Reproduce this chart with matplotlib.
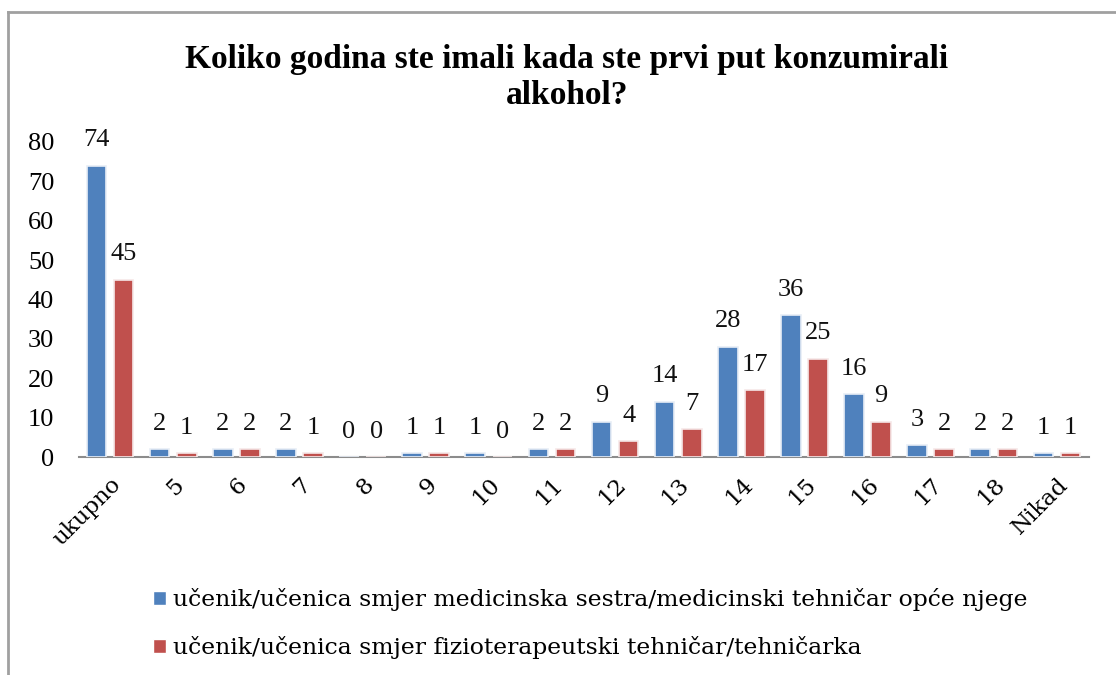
import matplotlib
matplotlib.use("Agg")
import matplotlib.pyplot as plt
import numpy as np
from matplotlib.lines import Line2D
from matplotlib.patches import Patch

categories = ["ukupno", "5", "6", "7", "8", "9", "10", "11", "12", "13", "14", "15", "16", "17", "18", "Nikad"]
med_sestra = [74, 2, 2, 2, 0, 1, 1, 2, 9, 14, 28, 36, 16, 3, 2, 1]
fizio = [45, 1, 2, 1, 0, 1, 0, 2, 4, 7, 17, 25, 9, 2, 2, 1]
series_names = [
    "učenik/učenica smjer medicinska sestra/medicinski tehničar opće njege",
    "učenik/učenica smjer fizioterapeutski tehničar/tehničarka",
]
title = "Koliko godina ste imali kada ste prvi put konzumirali\nalkohol?"
yticks = [0, 10, 20, 30, 40, 50, 60, 70, 80]

NUMFONT = ["Liberation Serif", "DejaVu Serif"]
TXTFONT = ["DejaVu Serif"]
plt.rcParams["font.family"] = NUMFONT

W, H = 1116, 675
fig = plt.figure(figsize=(W / 100, H / 100), dpi=100)

# outer frame (left and top edges)
fig.add_artist(Line2D([8 / W, 8 / W], [0, 1 - 12 / H], transform=fig.transFigure, color="#a0a0a0", lw=2))
fig.add_artist(Line2D([8 / W, 1], [1 - 12 / H, 1 - 12 / H], transform=fig.transFigure, color="#a0a0a0", lw=2))

ax_l, ax_r = 78.5, 1088.5
ax_t, ax_b = 142, 457
ax = fig.add_axes([ax_l / W, 1 - ax_b / H, (ax_r - ax_l) / W, (ax_b - ax_t) / H])

x = np.arange(len(categories))
bw = 0.31
off = 0.215
blue = "#4F81BD"
red = "#C0504D"
ax.bar(x - off, med_sestra, bw, color=blue, edgecolor="#e8eef6", linewidth=1.2, zorder=3)
ax.bar(x + off, fizio, bw, color=red, edgecolor="#f6e8e8", linewidth=1.2, zorder=3)

for xi, v in zip(x, med_sestra):
    ax.annotate(str(v), (xi - off, v), xytext=(0, 14), textcoords="offset points",
                ha="center", va="baseline", fontsize=19, color="#111111", annotation_clip=False)
for xi, v in zip(x, fizio):
    ax.annotate(str(v), (xi + off, v), xytext=(0, 14), textcoords="offset points",
                ha="center", va="baseline", fontsize=19, color="#111111", annotation_clip=False)

ax.set_xlim(-0.5, len(categories) - 0.5)
ax.set_ylim(0, 80)
ax.set_yticks(yticks)
ax.set_yticklabels([str(t) for t in yticks], fontsize=19)
ax.tick_params(axis="y", length=0, pad=17.5)
ax.set_xticks(x)
ax.set_xticklabels(categories, rotation=45, ha="right", va="top", rotation_mode="anchor",
                   fontsize=16.5, family=TXTFONT)
ax.tick_params(axis="x", length=0, pad=12)
for s in ["top", "right", "left"]:
    ax.spines[s].set_visible(False)
ax.spines["bottom"].set_color("#8c8c8c")
ax.spines["bottom"].set_linewidth(1.5)

fig.text(567 / W, 1 - 44 / H, title, ha="center", va="top", fontsize=24, fontweight="bold",
         linespacing=1.2, color="#000000")

handles = [Patch(facecolor=blue, edgecolor="white"), Patch(facecolor=red, edgecolor="white")]
fig.legend(handles, series_names, loc="upper left", bbox_to_anchor=(153 / W, 1 - 588 / H),
           frameon=False, prop={"family": TXTFONT, "size": 16.9}, handlelength=0.55, handleheight=0.55,
           handletextpad=0.3, labelspacing=1.08, borderpad=0, borderaxespad=0)

fig.savefig("out.png", dpi=100)
